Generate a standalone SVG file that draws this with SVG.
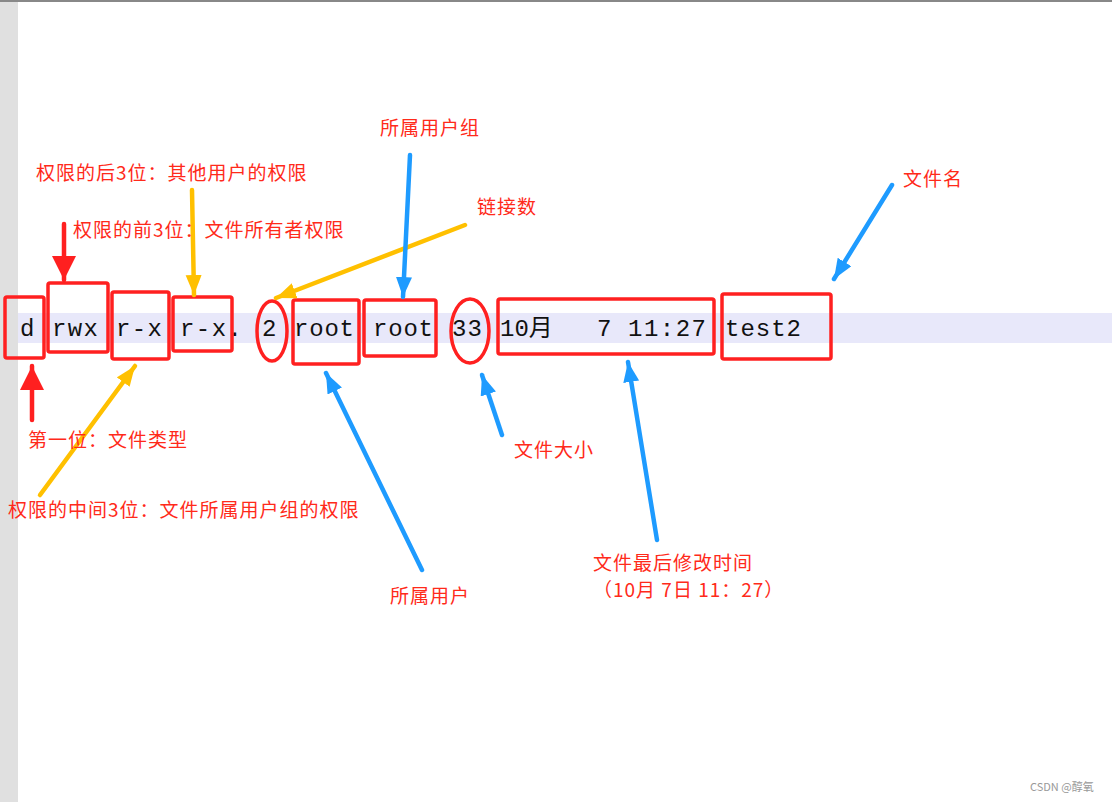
<svg xmlns="http://www.w3.org/2000/svg" width="1112" height="802" viewBox="0 0 1112 802">
<style>
.m{font-family:"Liberation Mono","DejaVu Sans Mono","Noto Sans CJK SC",monospace;font-size:24px;fill:#111}
.l{font-family:"Noto Sans CJK SC","Noto Sans",sans-serif;font-size:19px;letter-spacing:1px;fill:#ff2a1a}
.b{fill:none;stroke:#ff2020;stroke-width:3.5}
.ar{fill:none;stroke-width:4.5;stroke-linecap:round}
</style>
<defs>
<marker id="hr" markerUnits="userSpaceOnUse" markerWidth="26" markerHeight="26" refX="24" refY="12" orient="auto"><path d="M0,0 L24,12 L0,24 Z" fill="#ff2020"/></marker>
<marker id="hy" markerUnits="userSpaceOnUse" markerWidth="22" markerHeight="20" refX="20" refY="8" orient="auto"><path d="M0,0 L20,8 L0,16 Z" fill="#ffc000"/></marker>
<marker id="hb" markerUnits="userSpaceOnUse" markerWidth="22" markerHeight="20" refX="20" refY="8" orient="auto"><path d="M0,0 L20,8 L0,16 Z" fill="#1e9bff"/></marker>
</defs>
<rect width="1112" height="802" fill="#fff"/>
<rect x="0" y="0" width="18" height="802" fill="#e0e0e0"/>
<rect x="0" y="0" width="1112" height="2" fill="#888"/>
<rect x="18" y="313" width="1094" height="30" fill="#e8e8fa"/>
<g id="line">
<text class="m" x="20" y="336">d</text>
<text class="m" x="52" y="336" textLength="46">rwx</text>
<text class="m" x="116" y="336" textLength="46">r-x</text>
<text class="m" x="180" y="336" textLength="62">r-x.</text>
<text class="m" x="262" y="336">2</text>
<text class="m" x="294" y="336" textLength="60">root</text>
<text class="m" x="373" y="336" textLength="60">root</text>
<text class="m" x="452" y="336" textLength="30">33</text>
<text class="m" x="500" y="336">10月</text>
<text class="m" x="597" y="336">7</text>
<text class="m" x="628" y="336" textLength="78">11:27</text>
<text class="m" x="725" y="336" textLength="76">test2</text>
</g>
<g id="boxes">
<rect class="b" x="5" y="297" width="39" height="61" rx="2"/>
<rect class="b" x="48" y="283" width="60" height="69" rx="2"/>
<rect class="b" x="112" y="292" width="57" height="67" rx="2"/>
<rect class="b" x="173" y="297" width="59" height="54" rx="2"/>
<ellipse class="b" cx="272" cy="331" rx="15" ry="30"/>
<rect class="b" x="293" y="300" width="66" height="64" rx="2"/>
<rect class="b" x="364" y="300" width="72" height="56" rx="2"/>
<ellipse class="b" cx="470" cy="331" rx="19" ry="32"/>
<rect class="b" x="498" y="299" width="216" height="55" rx="2"/>
<rect class="b" x="722" y="294" width="109" height="65" rx="2"/>
</g>
<g id="connectors">
<path class="ar" stroke="#ff2020" d="M64,224 L64,280" marker-end="url(#hr)"/>
<path class="ar" stroke="#ff2020" d="M32,420 L32,366" marker-end="url(#hr)"/>
<path class="ar" stroke="#ffc000" d="M192,190 L194,295" marker-end="url(#hy)"/>
<path class="ar" stroke="#ffc000" d="M40,495 L135,366" marker-end="url(#hy)"/>
<path class="ar" stroke="#ffc000" d="M465,225 L276,298" marker-end="url(#hy)"/>
<path class="ar" stroke="#1e9bff" d="M410,155 L403,297" marker-end="url(#hb)"/>
<path class="ar" stroke="#1e9bff" d="M422,570 L326,373" marker-end="url(#hb)"/>
<path class="ar" stroke="#1e9bff" d="M502,435 L482,375" marker-end="url(#hb)"/>
<path class="ar" stroke="#1e9bff" d="M657,540 L628,362" marker-end="url(#hb)"/>
<path class="ar" stroke="#1e9bff" d="M892,185 L834,279" marker-end="url(#hb)"/>
</g>
<g id="labels">
<text class="l" x="380" y="135">所属用户组</text>
<text class="l" x="36" y="180">权限的后3位：其他用户的权限</text>
<text class="l" x="477" y="214">链接数</text>
<text class="l" x="903" y="186">文件名</text>
<text class="l" x="73" y="237">权限的前3位：文件所有者权限</text>
<text class="l" x="28" y="447">第一位：文件类型</text>
<text class="l" x="514" y="457">文件大小</text>
<text class="l" x="8" y="517">权限的中间3位：文件所属用户组的权限</text>
<text class="l" x="390" y="603">所属用户</text>
<text class="l" x="593" y="570">文件最后修改时间</text>
<text class="l" x="593" y="597">（10月 7日 11：27）</text>
<text x="1030" y="791" style="font-family:'Noto Sans CJK SC',sans-serif;font-size:11px;fill:#999">CSDN @醇氧</text>
</g>
</svg>
